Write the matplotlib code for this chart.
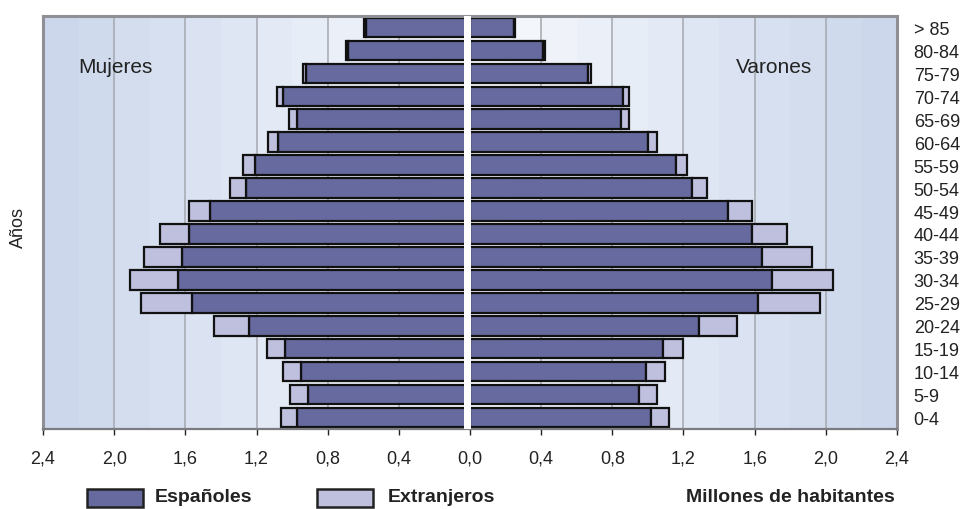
import numpy as np
from matplotlib import pyplot as plt
from matplotlib.patches import Rectangle

# Age groups, bottom to top
grupos = ['0-4', '5-9', '10-14', '15-19', '20-24', '25-29', '30-34', '35-39',
          '40-44', '45-49', '50-54', '55-59', '60-64', '65-69', '70-74',
          '75-79', '80-84', '> 85']

# Millions of inhabitants
mujeres_esp = [0.97, 0.91, 0.95, 1.04, 1.24, 1.56, 1.64, 1.62, 1.58, 1.46,
               1.26, 1.21, 1.08, 0.97, 1.05, 0.92, 0.685, 0.585]
mujeres_ext = [0.09, 0.10, 0.10, 0.10, 0.20, 0.29, 0.27, 0.21, 0.16, 0.12,
               0.09, 0.065, 0.055, 0.045, 0.035, 0.02, 0.012, 0.012]
varones_esp = [1.016, 0.952, 0.989, 1.087, 1.289, 1.621, 1.696, 1.640, 1.583,
               1.449, 1.246, 1.158, 1.002, 0.849, 0.862, 0.665, 0.41, 0.245]
varones_ext = [0.10, 0.10, 0.107, 0.112, 0.21, 0.346, 0.346, 0.281, 0.197,
               0.138, 0.084, 0.064, 0.051, 0.045, 0.032, 0.015, 0.01, 0.008]

ticks = [-2.4, -2.0, -1.6, -1.2, -0.8, -0.4, 0.0, 0.4, 0.8, 1.2, 1.6, 2.0, 2.4]

c_esp = '#666a9f'
c_ext = '#bfc0de'
font = ['Liberation Sans', 'DejaVu Sans']
plt.rcParams['font.family'] = font

fig = plt.figure(figsize=(9.64, 5.10), dpi=100)
ax = fig.add_axes([43 / 964, 1 - 430 / 510, 854 / 964, 413 / 510])

y = np.arange(len(grupos))
ax.set_xlim(-2.4, 2.4)
ax.set_ylim(-0.5, len(grupos) - 0.5)

# Background gradient, banded like the original
bands = np.linspace(-2.4, 2.4, 25)
centre = np.array([0.98, 0.985, 0.995])
edge = np.array([0.80, 0.845, 0.925])
mids = (bands[:-1] + bands[1:]) / 2
t = np.abs(mids) / 2.4
t = t / t.max()
img = centre + (edge - centre) * t[:, None]
ax.imshow(img[None, :, :], extent=[-2.4, 2.4, -0.5, len(grupos) - 0.5],
          aspect='auto', interpolation='nearest', zorder=0)

for xv in ticks:
    if xv not in (0.0, -2.4, 2.4):
        ax.axvline(xv, color='#a5a7ae', lw=1.1, zorder=1)

h = 0.85
kw = dict(height=h, edgecolor='#111111', linewidth=1.6, zorder=2)
ax.barh(y, [-v for v in mujeres_esp], color=c_esp, **kw)
ax.barh(y, [-v for v in mujeres_ext], left=[-v for v in mujeres_esp],
        color=c_ext, **kw)
ax.barh(y, varones_esp, color=c_esp, **kw)
ax.barh(y, varones_ext, left=varones_esp, color=c_ext, **kw)

# White gap at zero
ax.axvspan(-0.035, 0.004, color='white', zorder=3, lw=0)

ax.set_xticks(ticks)
ax.set_xticklabels([f'{abs(v):.1f}'.replace('.', ',') for v in ticks],
                   fontsize=13, color='#222222')
ax.tick_params(axis='x', direction='out', length=4, width=1,
               color='#222222', pad=11)

ax.yaxis.tick_right()
ax.set_yticks(y)
ax.set_yticklabels(grupos, fontsize=13, color='#222222', ha='left')
ax.tick_params(axis='y', length=0, pad=12)

for side in ['left', 'right', 'top']:
    ax.spines[side].set_color('#8e9096')
    ax.spines[side].set_linewidth(2.2)
ax.spines['bottom'].set_color('#7a7c82')
ax.spines['bottom'].set_linewidth(1.6)

ax.text(0.041, 0.877, 'Mujeres', transform=ax.transAxes, fontsize=15,
        color='#222222', va='center', ha='left', zorder=4)
ax.text(0.811, 0.877, 'Varones', transform=ax.transAxes, fontsize=15,
        color='#222222', va='center', ha='left', zorder=4)

fig.text(18 / 964, 1 - 228 / 510, 'Años', rotation=90, fontsize=13,
         color='#222222', va='center', ha='center')

# Legend
for x0, col, label, tx in [(87, c_esp, 'Españoles', 155),
                           (317, c_ext, 'Extranjeros', 388)]:
    fig.patches.append(Rectangle((x0 / 964, 2 / 510), 56 / 964, 18 / 510,
                                 transform=fig.transFigure, facecolor=col,
                                 edgecolor='#222222', linewidth=1.8))
    fig.text(tx / 964, 1 - 498 / 510, label, fontsize=14, fontweight='bold',
             color='#222222', va='center', ha='left')
fig.text(895 / 964, 1 - 498 / 510, 'Millones de habitantes', fontsize=14,
         fontweight='bold', color='#222222', va='center', ha='right')

plt.savefig('out.png', dpi=100)
plt.close()
